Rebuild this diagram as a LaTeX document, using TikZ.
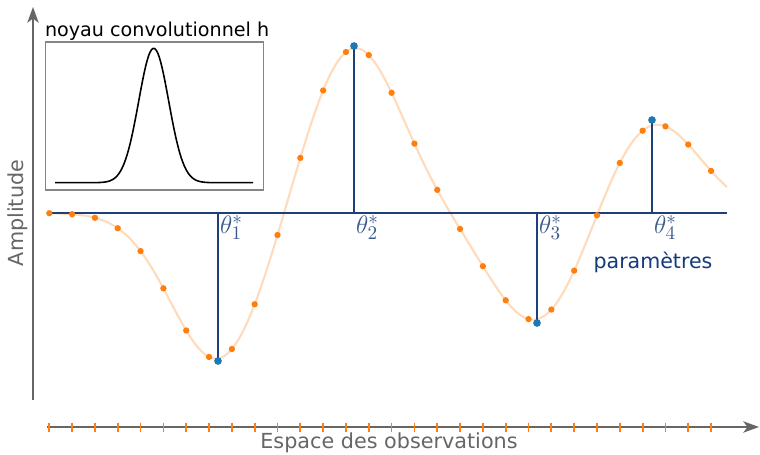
\documentclass[tikz,border=0pt]{standalone}
\usepackage[no-math]{fontspec}
\setmainfont{DejaVu Sans}
\usepackage{xcolor}
\usetikzlibrary{arrows.meta,positioning,calc}

\definecolor{axgray}{HTML}{666666}
\definecolor{stemblue}{HTML}{1F3F7A}
\definecolor{thetablue}{HTML}{3B5A8E}
\definecolor{parblue}{HTML}{15397A}
\definecolor{obsorange}{HTML}{FF7F0E}
\definecolor{spikeblue}{HTML}{1F77B4}

\begin{document}
\begin{tikzpicture}[
        x=0.02cm, y=-0.02cm,
        declare function={
            gau(\u)=exp(-0.5*\u*\u);
            sig(\t)=-148*gau((\t-218)/47)+167*gau((\t-354)/47)-111*gau((\t-537)/47)+93*gau((\t-652)/47);
            kern(\t)=134.4*gau((\t-153.7)/15);
        },
        axis/.style={draw=axgray,line width=1.1pt,-{Stealth[length=9pt,width=6.5pt,inset=2.5pt]}},
        axlabel/.style={text=axgray,font=\fontsize{11.8}{14}\selectfont},
        base/.style={draw=stemblue,line width=0.9pt},
        stem/.style={draw=stemblue,line width=1.1pt},
        spike/.style={circle,fill=spikeblue,inner sep=0pt,minimum size=4.2pt},
        obsdot/.style={fill=obsorange},
        obstick/.style={draw=obsorange,line width=1pt},
        curve/.style={draw=obsorange!28,line width=1.2pt},
        thetalab/.style={text=thetablue,font=\fontsize{15}{17}\selectfont,inner sep=1pt,anchor=north west},
        kernelbox/.style={rectangle,draw=axgray!80,line width=0.6pt,minimum width=4.36cm,minimum height=2.96cm,inner sep=0pt},
        kernel/.style={draw=black,line width=0.9pt},
    ]
    \useasboundingbox (0,0) rectangle (760,455);

    % === axes ===
    \coordinate (yb) at (33,400);
    \coordinate (yt) at (33,7);
    \coordinate (xl) at (47,427);
    \coordinate (xr) at (759,427);
    \draw[axis] (yb) -- (yt);
    \draw[axis] (xl) -- (xr);
    \foreach \k in {0,...,29} {
        \pgfmathsetmacro\xo{49.3+22.82*\k}
        \draw[obstick] (\xo,422.5) -- (\xo,431.5);
    }
    \node[axlabel,rotate=90] (ylab) at (18,213) {Amplitude};
    \node[axlabel] (xlab) at (389,443) {Espace des observations};

    % === observed signal ===
    \draw[curve] plot[domain=50:727,samples=160,smooth] (\x,{213-sig(\x)});
    \coordinate (z0) at (50,213);
    \coordinate (z1) at (727,213);
    \draw[base] (z0) -- (z1);
    \foreach \k in {0,...,29} {
        \pgfmathsetmacro\xo{49.3+22.82*\k}
        \fill[obsdot] (\xo,{213-sig(\xo)}) circle (1.8pt);
    }

    % === parameters ===
    \foreach \n/\xs/\ys in {1/218/361,2/354/46,3/537/323,4/652/120} {
        \coordinate (b\n) at (\xs,213);
        \node[spike] (p\n) at (\xs,\ys) {};
        \draw[stem] (b\n) -- (p\n.center);
        \node[spike] at (p\n) {};
        \node[thetalab] (t\n) at (b\n) {$\theta^*_{\n}$};
    }
    \node[text=parblue,font=\fontsize{11.7}{14}\selectfont] (par) at (653,262) {paramètres};

    % === kernel inset ===
    \node[kernelbox,fill=white] (kbox) at (154.5,116) {};
    \draw[kernel] plot[domain=55:253,samples=120,smooth] (\x,{182.7-kern(\x)});
    \node[anchor=base,inner sep=0pt,font=\fontsize{10.9}{13}\selectfont,xshift=1.5pt,yshift=2.8pt] (ktitle) at (kbox.north) {noyau convolutionnel h};
\end{tikzpicture}
\end{document}
